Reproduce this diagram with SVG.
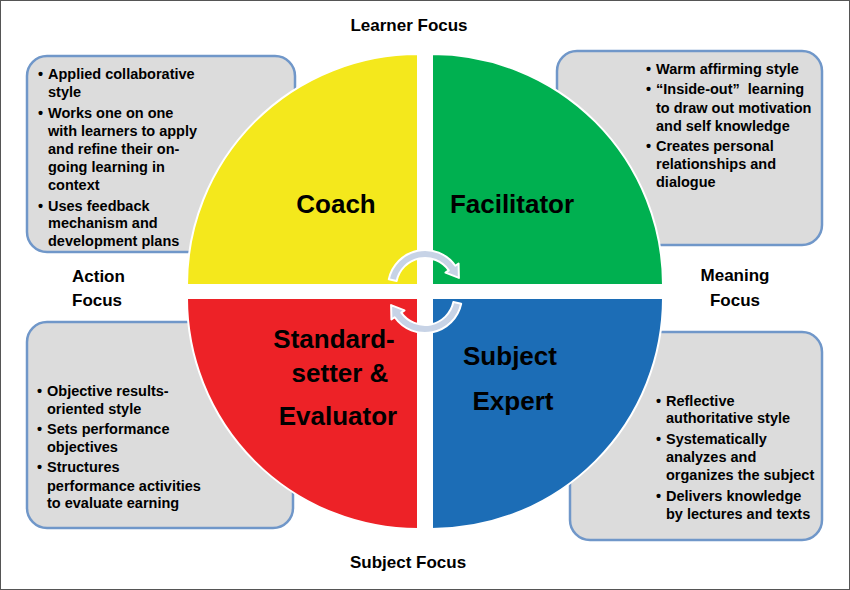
<svg xmlns="http://www.w3.org/2000/svg" width="850" height="590" viewBox="0 0 850 590">
<style>
text{font-family:"Liberation Sans",Arial,sans-serif;font-weight:bold;fill:#000}
.box{fill:#dcdcdc;stroke:#7097c9;stroke-width:2.5}
.bt{font-size:14.5px}
.q{stroke:#fff;stroke-width:2}
.ql{font-size:26px;text-anchor:middle}
.fl{font-size:17px}
.arr{fill:#c7d3e6;stroke:#fff;stroke-width:2;stroke-linejoin:round}
</style>
<rect x="0.5" y="0.5" width="849" height="589" fill="#fff" stroke="#555" stroke-width="1"/>

<g id="box-coach">
<rect class="box" x="27" y="56" width="268" height="196" rx="20"/>
<g class="bt">
<text x="38" y="79">•</text><text x="48" y="79">Applied collaborative</text>
<text x="48" y="97">style</text>
<text x="38" y="118">•</text><text x="48" y="118">Works one on one</text>
<text x="48" y="136">with learners to apply</text>
<text x="48" y="154">and refine their on-</text>
<text x="48" y="172">going learning in</text>
<text x="48" y="190">context</text>
<text x="38" y="211">•</text><text x="48" y="211">Uses feedback</text>
<text x="48" y="228">mechanism and</text>
<text x="48" y="246">development plans</text>
</g>
</g>

<g id="box-facilitator">
<rect class="box" x="557" y="51" width="265" height="194" rx="20"/>
<g class="bt">
<text x="646" y="74">•</text><text x="656" y="74">Warm affirming style</text>
<text x="646" y="94">•</text><text x="656" y="94" xml:space="preserve">“Inside-out”  learning</text>
<text x="656" y="113">to draw out motivation</text>
<text x="656" y="131">and self knowledge</text>
<text x="646" y="151">•</text><text x="656" y="151">Creates personal</text>
<text x="656" y="169">relationships and</text>
<text x="656" y="187">dialogue</text>
</g>
</g>

<g id="box-evaluator">
<rect class="box" x="27" y="322" width="266" height="206" rx="20"/>
<g class="bt">
<text x="37" y="396">•</text><text x="47" y="396">Objective results-</text>
<text x="47" y="414">oriented style</text>
<text x="37" y="434">•</text><text x="47" y="434">Sets performance</text>
<text x="47" y="452">objectives</text>
<text x="37" y="472">•</text><text x="47" y="472">Structures</text>
<text x="47" y="491">performance activities</text>
<text x="47" y="508">to evaluate earning</text>
</g>
</g>

<g id="box-expert">
<rect class="box" x="570" y="332" width="252" height="208" rx="20"/>
<g class="bt">
<text x="656" y="406">•</text><text x="666" y="406">Reflective</text>
<text x="666" y="423">authoritative style</text>
<text x="656" y="444">•</text><text x="666" y="444">Systematically</text>
<text x="666" y="462">analyzes and</text>
<text x="666" y="480">organizes the subject</text>
<text x="656" y="501">•</text><text x="666" y="501">Delivers knowledge</text>
<text x="666" y="519">by lectures and texts</text>
</g>
</g>

<g id="coach">
<path class="q" fill="#f4e81c" d="M418,285 L187,285 A231,231 0 0 1 418,54 Z"/>
<text class="ql" x="336" y="213">Coach</text>
</g>
<g id="facilitator">
<path class="q" fill="#00b050" d="M432,285 L432,54 A231,231 0 0 1 663,285 Z"/>
<text class="ql" x="512" y="213">Facilitator</text>
</g>
<g id="evaluator">
<path class="q" fill="#ed2227" d="M418,298 L418,529 A231,231 0 0 1 187,298 Z"/>
<text class="ql" x="334" y="348">Standard-</text>
<text class="ql" x="340" y="382">setter &amp;</text>
<text class="ql" x="338" y="425">Evaluator</text>
</g>
<g id="expert">
<path class="q" fill="#1c6db6" d="M432,298 L663,298 A231,231 0 0 1 432,529 Z"/>
<text class="ql" x="510" y="365">Subject</text>
<text class="ql" x="513" y="410">Expert</text>
</g>

<g id="connectors">
<path class="arr" d="M388.81,279.31 A37,37 0 0 1 455.30,265.76 L458.58,263.47 L458.9,277.9 L445.48,272.65 L448.75,270.35 A29,29 0 0 0 396.63,280.97 Z"/>
<path class="arr" d="M461.19,303.69 A37,37 0 0 1 394.70,317.22 L391.42,319.52 L391.08,305.10 L404.52,310.34 L401.25,312.63 A29,29 0 0 0 453.37,302.03 Z"/>
</g>

<g id="labels">
<text class="fl" x="409" y="31" text-anchor="middle">Learner Focus</text>
<text class="fl" x="72" y="282">Action</text>
<text class="fl" x="72" y="306">Focus</text>
<text class="fl" x="735" y="281" text-anchor="middle">Meaning</text>
<text class="fl" x="735" y="306" text-anchor="middle">Focus</text>
<text class="fl" x="408" y="568" text-anchor="middle">Subject Focus</text>
</g>
</svg>
